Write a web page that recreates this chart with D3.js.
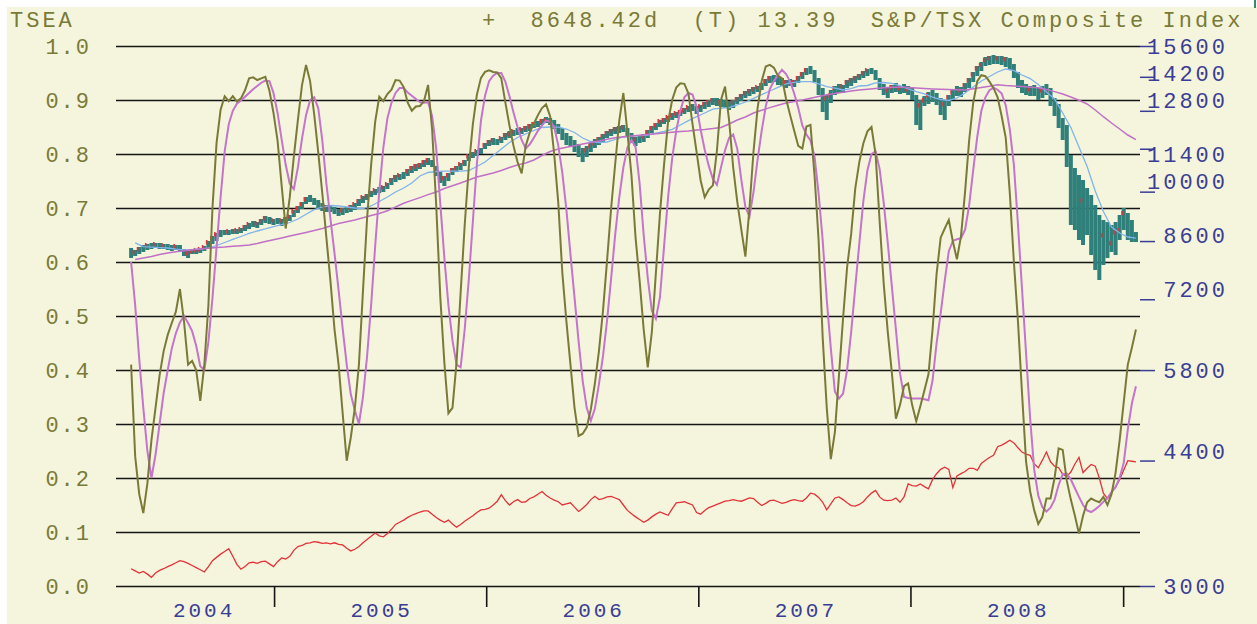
<!DOCTYPE html>
<html><head><meta charset="utf-8">
<script src="https://cdn.jsdelivr.net/npm/d3@7"></script>
<style>
html,body{margin:0;padding:0;background:#fff;}
svg{display:block;}
text{font-family:"Liberation Mono","DejaVu Sans Mono",monospace;}
</style></head><body>
<svg id="chart" width="1257" height="624"></svg>
<script>
// ---------- DATA ----------
const headerLeft = "TSEA";
const headerRight = "+  8648.42d  (T) 13.39  S&P/TSX Composite Index";
const leftTicks = [0,0.1,0.2,0.3,0.4,0.5,0.6,0.7,0.8,0.9,1.0];
const rightTicks = [3000,4400,5800,7200,8600,10000,11400,12800,14200,15600];
const yearLabels = ["2004","2005","2006","2007","2008"];
const firstWeek = "2004-04-30", lastWeek = "2009-01-23";

const priceHigh = [
8420,8369,8445,8497,8523,8549,8549,8549,8523,8523,
8497,8497,8497,8394,8343,8394,8394,8420,8471,8601,
8733,8814,8895,8895,8895,8922,8922,8950,9032,9088,
9143,9115,9199,9284,9256,9199,9227,9199,9256,9312,
9455,9572,9689,9838,9898,9808,9748,9659,9601,9572,
9542,9484,9513,9542,9601,9659,9778,9868,9928,10019,
10081,10143,10174,10268,10426,10522,10554,10618,10716,10815,
10881,10914,11014,11082,11014,10815,10618,10490,10586,10749,
10815,10914,11014,11184,11287,11356,11426,11601,11708,11780,
11744,11816,11961,12034,12071,12145,12145,12220,12295,12370,
12408,12484,12560,12522,12446,12295,12145,11961,11852,11708,
11566,11426,11496,11637,11744,11816,11925,12034,12108,12182,
12220,12257,12145,11961,11816,11888,11925,12071,12220,12332,
12446,12522,12599,12714,12753,12831,12910,12989,13069,12989,
13029,13149,13229,13310,13310,13269,13229,13189,13229,13350,
13473,13597,13681,13765,13807,13934,14105,14235,14278,14191,
14148,14062,14105,14062,14235,14409,14587,14676,14497,14148,
13723,13432,13639,13807,13891,13849,14062,14148,14235,14321,
14453,14542,14587,14497,14148,13891,13723,13849,13934,13807,
13891,13807,13723,13432,13229,13391,13556,13639,13515,13310,
13229,13432,13639,13807,13765,13934,14148,14409,14676,14856,
15085,15131,15177,15131,15131,15085,15039,14766,14409,14062,
13891,13807,13849,13723,13807,13891,13723,13310,13069,12522,
12257,11184,10749,10522,10362,10112,9898,9601,9312,9171,
9115,9032,9115,9312,9513,9369,9171,8841];
const priceLow = [
8166,8216,8267,8318,8369,8394,8420,8394,8394,8369,
8343,8369,8343,8216,8166,8267,8267,8293,8343,8420,
8523,8601,8707,8760,8760,8787,8787,8814,8868,8922,
8977,8950,9032,9088,9060,9032,9060,9005,9060,9143,
9256,9369,9484,9630,9689,9601,9513,9426,9398,9398,
9341,9284,9312,9369,9398,9455,9572,9659,9748,9838,
9898,9958,9989,10081,10205,10299,10362,10394,10490,10586,
10650,10716,10782,10848,10782,10490,10268,10174,10330,10522,
10618,10683,10815,10980,11082,11150,11218,11391,11496,11531,
11531,11601,11708,11780,11852,11888,11925,11998,12034,12145,
12182,12257,12332,12257,12108,11925,11708,11531,11461,11287,
11116,10947,11116,11287,11426,11531,11637,11780,11852,11925,
11961,11998,11816,11637,11496,11601,11637,11780,11961,12071,
12182,12295,12370,12446,12522,12599,12676,12753,12792,12676,
12753,12871,12950,13029,12989,12950,12910,12831,12910,13069,
13189,13310,13391,13473,13556,13639,13807,13934,13976,13849,
13807,13723,13807,13765,13934,14105,14278,14321,13976,13432,
12753,12446,13109,13432,13515,13515,13723,13807,13934,14062,
14148,14235,14321,14062,13639,13432,13310,13515,13556,13473,
13515,13432,13229,12257,12071,12989,13069,13149,13029,12637,
12446,12989,13229,13391,13350,13556,13723,13976,14235,14453,
14676,14721,14766,14766,14721,14631,14497,14148,13723,13515,
13432,13391,13391,13229,13310,13432,12989,12599,12145,11708,
10782,9032,8895,8628,8497,8760,8241,7873,7636,7994,
8166,8318,8241,8628,8895,8628,8575,8575];
const priceClose = [
8216,8318,8394,8343,8497,8471,8523,8445,8497,8420,
8394,8471,8369,8241,8293,8343,8369,8394,8445,8575,
8680,8787,8841,8814,8868,8841,8895,8922,8977,9060,
9032,9088,9143,9227,9115,9171,9115,9171,9199,9284,
9426,9513,9630,9778,9748,9689,9572,9484,9542,9455,
9398,9341,9455,9426,9542,9630,9718,9838,9868,9989,
10050,10019,10143,10237,10362,10458,10522,10490,10650,10749,
10815,10848,10947,11014,10848,10554,10362,10426,10522,10683,
10749,10881,10947,11150,11218,11321,11356,11531,11637,11708,
11601,11780,11888,11925,12034,11961,12108,12145,12220,12295,
12257,12408,12446,12332,12182,12034,11852,11708,11601,11426,
11218,11150,11356,11496,11601,11744,11852,11961,12034,12108,
12145,12182,11888,11708,11744,11672,11852,11998,12145,12257,
12408,12446,12560,12637,12714,12753,12831,12950,12871,12753,
12989,13069,13149,13229,13109,13149,13029,12950,13149,13269,
13391,13515,13597,13681,13765,13849,14019,14148,14062,13976,
13891,13976,13891,13976,14148,14321,14497,14409,14062,13556,
13069,13310,13432,13723,13639,13807,13976,14062,14148,14235,
14365,14497,14409,14148,13807,13556,13639,13765,13639,13723,
13597,13681,13310,12637,13029,13229,13432,13310,13149,12831,
13069,13350,13556,13473,13639,13849,14062,14321,14587,14721,
14947,15039,14901,15039,14856,14993,14676,14321,13849,13723,
13556,13681,13473,13350,13639,13556,13069,12753,12295,12145,
10947,9455,9312,9115,9748,9312,8895,8369,8166,8760,
8497,8549,8841,8895,9369,9032,8680,8648];

// short (blue) and long (purple) moving averages, every second week
const maShort = [
8550,8453,8440,8430,8419,8393,8374,8379,8397,8415,
8484,8562,8644,8720,8803,8868,8925,8988,9040,9101,
9199,9334,9464,9542,9586,9572,9542,9513,9498,9572,
9703,9838,9989,10111,10267,10490,10602,10634,10650,10650,
10650,10667,10798,10947,11167,11391,11619,11797,11925,12053,
12164,12182,12175,12108,11979,11779,11654,11619,11637,11726,
11816,11841,11863,11888,11953,12016,12096,12257,12423,12571,
12713,12862,12902,12929,13029,13148,13298,13448,13597,13752,
13900,13959,13993,13989,13892,13785,13714,13639,13698,13807,
13828,13938,13955,13921,13819,13681,13576,13474,13350,13249,
13209,13310,13514,13765,14018,14212,14409,14542,14475,14278,
14125,13870,13556,13270,12713,12164,11461,10798,10019,9412,
8977,8813,8707,8680];
const maLong = [
8129,8165,8203,8253,8291,8323,8349,8374,8395,8415,
8432,8445,8463,8479,8497,8536,8588,8633,8681,8733,
8781,8830,8879,8936,9004,9071,9121,9171,9233,9295,
9355,9432,9542,9653,9736,9820,9910,9989,10096,10180,
10267,10362,10458,10522,10585,10667,10766,10848,10913,11014,
11167,11304,11391,11450,11507,11567,11619,11672,11733,11786,
11823,11852,11877,11906,11932,11960,11986,12012,12034,12071,
12093,12123,12164,12295,12446,12560,12713,12819,12925,13021,
13108,13164,13229,13302,13374,13440,13494,13544,13597,13639,
13668,13701,13731,13757,13757,13740,13718,13701,13684,13672,
13656,13647,13643,13689,13744,13795,13861,13828,13807,13782,
13757,13731,13660,13572,13474,13350,13217,13069,12831,12571,
12332,12108,11888,11719];

// oscillators on the 0..1 scale (weekly)
const oscFast = [
.41,.24,.17,.135,.19,.27,.33,.39,.435,.465,
.487,.508,.55,.49,.41,.417,.40,.343,.41,.52,
.70,.82,.882,.907,.898,.907,.897,.903,.918,.94,
.942,.937,.94,.943,.917,.876,.825,.742,.662,.72,
.795,.863,.927,.965,.935,.874,.803,.727,.645,.565,
.475,.41,.32,.232,.275,.33,.41,.547,.68,.78,
.86,.906,.898,.911,.919,.937,.936,.924,.895,.88,
.888,.889,.898,.928,.845,.705,.535,.414,.32,.33,
.414,.543,.668,.775,.855,.91,.941,.952,.955,.952,
.951,.94,.895,.853,.815,.785,.764,.815,.84,.856,
.872,.885,.892,.87,.80,.71,.58,.49,.41,.33,
.278,.282,.294,.327,.375,.435,.51,.603,.70,.782,
.862,.913,.84,.76,.645,.565,.475,.405,.47,.58,
.69,.78,.86,.90,.923,.931,.93,.912,.856,.804,
.751,.72,.734,.742,.806,.90,.925,.862,.775,.712,
.66,.61,.70,.805,.885,.935,.962,.965,.96,.945,
.94,.902,.872,.843,.815,.81,.851,.854,.76,.64,
.46,.33,.235,.285,.39,.495,.59,.652,.736,.785,
.82,.842,.85,.80,.675,.56,.47,.395,.31,.335,
.37,.375,.335,.305,.333,.362,.392,.474,.578,.645,
.662,.678,.638,.605,.648,.73,.825,.895,.935,.946,
.944,.934,.922,.905,.87,.83,.727,.60,.49,.357,
.23,.175,.14,.115,.128,.162,.162,.20,.255,.252,
.195,.16,.13,.097,.13,.155,.162,.158,.155,.165,
.15,.17,.21,.27,.34,.41,.441,.475];
const oscSlow = [
.60,.52,.42,.33,.25,.20,.243,.30,.357,.40,
.44,.468,.488,.50,.487,.472,.445,.407,.40,.452,
.533,.627,.72,.805,.855,.88,.893,.899,.906,.913,
.92,.926,.932,.936,.935,.913,.876,.827,.78,.745,
.735,.775,.828,.872,.90,.905,.885,.825,.745,.68,
.616,.548,.477,.41,.355,.325,.30,.35,.425,.52,
.63,.73,.812,.866,.895,.913,.922,.922,.914,.908,
.902,.896,.895,.896,.87,.81,.708,.608,.52,.455,
.41,.405,.475,.567,.674,.782,.862,.908,.935,.945,
.95,.95,.934,.907,.877,.85,.826,.81,.818,.83,
.843,.853,.862,.86,.85,.816,.765,.697,.614,.534,
.453,.38,.33,.306,.328,.374,.426,.492,.57,.651,
.72,.775,.812,.826,.813,.745,.65,.57,.51,.495,
.535,.628,.72,.792,.843,.88,.905,.913,.91,.888,
.845,.808,.778,.754,.743,.775,.807,.83,.836,.81,
.752,.702,.684,.73,.79,.843,.888,.92,.935,.946,
.956,.948,.934,.912,.885,.853,.836,.825,.795,.726,
.64,.53,.44,.36,.347,.356,.40,.47,.553,.634,
.713,.77,.80,.805,.772,.71,.635,.555,.475,.394,
.35,.348,.347,.347,.347,.346,.344,.38,.45,.505,
.565,.62,.639,.642,.644,.66,.705,.77,.832,.88,
.905,.918,.923,.919,.912,.89,.845,.78,.67,.55,
.43,.31,.215,.167,.146,.138,.145,.16,.187,.207,
.208,.197,.181,.165,.15,.14,.137,.142,.148,.156,
.163,.174,.183,.20,.228,.29,.338,.37];
const relStrength = [
.032,.028,.024,.027,.022,.016,.024,.029,.032,.036,
.039,.043,.047,.045,.042,.038,.034,.030,.026,.036,
.047,.053,.059,.064,.069,.055,.040,.031,.036,.043,
.044,.042,.045,.046,.041,.036,.045,.052,.050,.055,
.066,.073,.075,.079,.080,.082,.081,.079,.080,.078,
.080,.077,.076,.070,.065,.068,.073,.080,.086,.092,
.098,.093,.091,.097,.105,.114,.118,.122,.127,.131,
.134,.137,.139,.139,.133,.127,.122,.118,.122,.115,
.109,.114,.120,.125,.130,.136,.141,.142,.144,.150,
.157,.169,.158,.150,.156,.160,.155,.156,.162,.165,
.170,.175,.168,.163,.159,.156,.150,.152,.154,.146,
.138,.144,.151,.160,.166,.160,.162,.165,.166,.163,
.160,.150,.140,.134,.128,.123,.118,.122,.128,.133,
.137,.134,.131,.143,.154,.155,.156,.153,.150,.136,
.133,.140,.145,.148,.151,.154,.157,.158,.160,.158,
.157,.160,.163,.162,.155,.149,.153,.158,.159,.156,
.153,.155,.158,.160,.158,.157,.163,.172,.170,.164,
.155,.141,.152,.163,.165,.160,.154,.149,.148,.151,
.156,.165,.172,.177,.165,.159,.158,.159,.163,.155,
.165,.189,.186,.185,.189,.184,.180,.197,.208,.216,
.220,.216,.182,.204,.208,.212,.218,.218,.214,.227,
.233,.238,.242,.258,.261,.265,.270,.265,.256,.248,
.244,.242,.226,.219,.233,.248,.230,.222,.219,.207,
.203,.211,.226,.238,.210,.218,.225,.222,.200,.172,
.162,.173,.184,.197,.215,.232,.231,.230];

// ---------- CHART ----------
const W = 1257, H = 624;
const L = 116, R = 1140, T = 46, B = 586;
const svg = d3.select("#chart");
const parse = d3.timeParse("%Y-%m-%d");

const weeks = d3.timeFriday.range(parse(firstWeek), d3.timeDay.offset(parse(lastWeek), 1));
const maDates = weeks.filter((d, i) => i % 2 === 1);

const x = d3.scaleTime().domain([new Date(2004, 3, 4), new Date(2009, 0, 30)]).range([L, R]);
const yL = d3.scaleLinear().domain([0, 1]).range([B, T]);
const yP = d3.scaleLog().domain([3000, 15600]).range([B, T]);

const olive = "#7a7a38", blueTxt = "#3a3d96";

svg.append("rect").attr("width", W).attr("height", H).attr("fill", "#ffffff");
svg.append("rect").attr("x", 7).attr("y", 7).attr("width", W - 7).attr("height", H - 7).attr("fill", "#f4f5dc");
svg.append("line").attr("x1", 1255).attr("x2", 1255).attr("y1", 0).attr("y2", 8)
  .attr("stroke", "#2f8f60").attr("stroke-width", 2);

// header
const hdr = svg.append("g").attr("fill", olive).style("font-size", "22px").style("letter-spacing", "3px");
hdr.append("text").attr("x", 10).attr("y", 27).text(headerLeft);
hdr.append("text").attr("x", 482).attr("y", 27).style("white-space", "pre").text(headerRight);

// left axis + gridlines
const gl = svg.append("g").attr("transform", `translate(${L},0)`)
  .call(d3.axisLeft(yL).tickValues(leftTicks).tickSize(-(R - L)).tickPadding(25).tickFormat(d3.format(".1f")));
gl.select(".domain").remove();
gl.selectAll(".tick line").attr("stroke", "#151515").attr("stroke-width", 1.6);
gl.selectAll(".tick text").attr("fill", olive).style("font-size", "22px").style("letter-spacing", "2px")
  .style("font-family", '"Liberation Mono", monospace').attr("dy", "0.36em");

// bottom year ticks
const yearStarts = [2005, 2006, 2007, 2008, 2009].map(yv => new Date(yv, 0, 1));
const gb = svg.append("g").attr("transform", `translate(0,${B})`)
  .call(d3.axisBottom(x).tickValues(yearStarts).tickSize(21).tickFormat(""));
gb.select(".domain").remove();
gb.selectAll(".tick line").attr("stroke", "#151515").attr("stroke-width", 1.6);

const bounds = [weeks[0], ...yearStarts];
svg.append("g").selectAll("text").data(yearLabels).join("text")
  .attr("x", (d, i) => (x(bounds[i]) + x(bounds[i + 1])) / 2 + 1.5)
  .attr("y", 617).attr("text-anchor", "middle").attr("fill", blueTxt)
  .style("font-size", "21px").style("letter-spacing", "3px").text(d => d);

// right price axis (labels snapped to text rows)
const row = (B - T) / 20;
const gr = svg.append("g").attr("transform", `translate(${R},0)`)
  .call(d3.axisRight(yP).tickValues(rightTicks).tickSize(15).tickFormat(d3.format("d")));
gr.select(".domain").remove();
gr.selectAll(".tick line").attr("stroke", blueTxt).attr("stroke-width", 1.5);
gr.selectAll(".tick text").attr("fill", blueTxt).attr("text-anchor", "end").attr("x", 88)
  .style("font-size", "22px").style("letter-spacing", "3px").style("font-family", '"Liberation Mono", monospace')
  .attr("dy", "0.36em")
  .attr("y", d => { const yy = yP(d); return T + Math.round((yy - T) / row) * row - yy; });

// price bars
const bars = svg.append("g");
weeks.forEach((d, i) => {
  const cx = x(d);
  bars.append("rect").attr("x", cx - 2).attr("width", 4)
    .attr("y", yP(priceHigh[i])).attr("height", Math.max(2, yP(priceLow[i]) - yP(priceHigh[i])))
    .attr("fill", "#2f7f7a");
});
weeks.forEach((d, i) => {
  const up = i === 0 ? false : priceClose[i] >= priceClose[i - 1];
  if (!up) return;
  const cx = x(d);
  bars.append("rect").attr("x", cx - 2.5).attr("width", 1.6)
    .attr("y", yP(priceClose[i]) - 2).attr("height", 4.5).attr("fill", "#e0343c");
});

const lineW = (arr, dates, yS) => d3.line().x((v, i) => x(dates[i])).y(v => yS(v))(arr);
svg.append("path").attr("d", lineW(maShort, maDates, yP)).attr("fill", "none").attr("stroke", "#80b4ea").attr("stroke-width", 1.3);
svg.append("path").attr("d", lineW(maLong, maDates, yP)).attr("fill", "none").attr("stroke", "#c070c6").attr("stroke-width", 1.5);

svg.append("path").attr("d", lineW(relStrength, weeks, yL)).attr("fill", "none").attr("stroke", "#e23238").attr("stroke-width", 1.3);
svg.append("path").attr("d", lineW(oscSlow, weeks, yL)).attr("fill", "none").attr("stroke", "#c474cc").attr("stroke-width", 2);
svg.append("path").attr("d", lineW(oscFast, weeks, yL)).attr("fill", "none").attr("stroke", "#7a7a38").attr("stroke-width", 2);
</script>
</body></html>
